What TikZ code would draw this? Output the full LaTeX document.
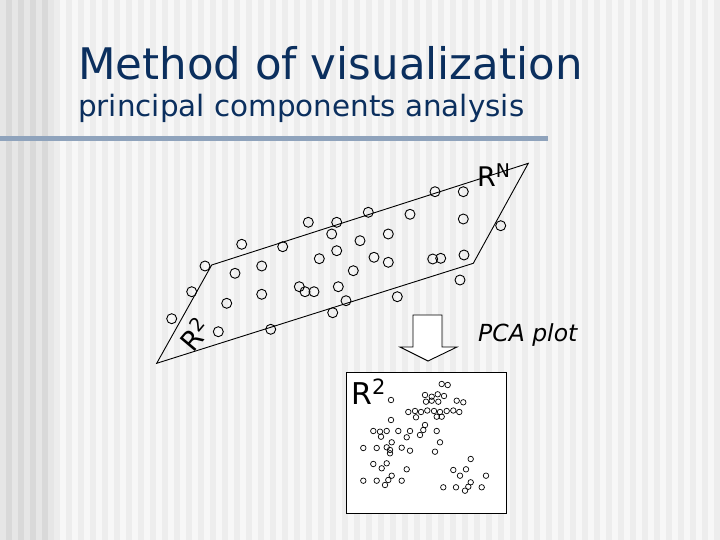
\documentclass[tikz,border=0pt]{standalone}
\usepackage{fontspec}
\setmainfont{DejaVu Sans}
\usepackage{xcolor}
\usetikzlibrary{positioning,calc}

\definecolor{titleblue}{HTML}{0B2F5E}
\definecolor{barblue}{HTML}{8FA3BC}
\definecolor{banddark}{HTML}{D9D9D9}
\definecolor{bandlight}{HTML}{E6E6E6}
\definecolor{paperdark}{HTML}{EDEDED}
\definecolor{paperlight}{HTML}{F7F7F7}

\tikzset{
	datapt/.style={draw,circle,inner sep=0pt,minimum size=10pt,line width=0.9pt},
	plotpt/.style={draw,circle,inner sep=0pt,minimum size=5.5pt,line width=0.7pt},
	lbl/.style={inner sep=0pt,anchor=base west},
}

\begin{document}
\begin{tikzpicture}[x=1pt,y=-1pt]
	\useasboundingbox (0,0) rectangle (720,540);
	
	% striped background
	\fill[paperlight] (0,0) rectangle (720,540);
	\foreach \x in {54,66,...,714}
		\fill[paperdark] (\x,0) rectangle ++(6,540);
	\fill[banddark] (0,0) rectangle (54,540);
	\foreach \x in {0,12,...,48}
		\fill[bandlight] (\x,0) rectangle ++(6,540);
	
	% title
	\node[lbl,text=titleblue,font=\fontsize{43.5}{50}\selectfont] (title) at (78,80) {Method of visualization};
	\node[lbl,text=titleblue,font=\fontsize{29.4}{34}\selectfont] (subtitle) at (78,117) {principal components analysis};
	\fill[barblue] (0,136) rectangle (548,141);
	
	% the plane in R^N
	\coordinate (bl) at (156.7,363.3);
	\coordinate (tl) at (211.7,265);
	\coordinate (tr) at (528.3,163.3);
	\coordinate (br) at (473.3,263.3);
	\draw[line width=0.9pt] (bl) -- (tl) -- (tr) -- (br) -- cycle;
	
	\foreach \x/\y [count=\i] in {435/191.7,463.3/191.7,368.3/212.3,410/214.3,463.3/219,
		500.7/225.7,308.3/222.3,336.7/222.3,331.7/234,388.3/234,360/240.7,241.7/244.3,
		282.7/246.7,336.7/250.7,319.3/258.7,374/257.3,388.3/262.3,432.7/259,440.7/258.3,
		464/255,205/266,261.7/266,235/273.3,353.3/270.7,460/280,191.7/291.7,299.3/286.7,
		305/291.7,314/291.7,338.3/286.7,261.7/294.3,226.7/303.3,346/300.7,397.3/296.7,
		332.7/312.7,171.7/318.7,218.3/331.7,270.7/329.3}
		\node[datapt] (p\i) at (\x,\y) {};
	
	\node[lbl,font=\fontsize{27}{30}\selectfont] (rn) at (477,187) {R\textsuperscript{N}};
	\node[inner sep=0pt,rotate=50,font=\fontsize{27}{30}\selectfont] (rtwo) at (195,334) {R\textsuperscript{2}};
	
	% projection arrow
	\draw[fill=white,line width=0.9pt] (413,315) -- (442,315) -- (442,347) -- (457,347)
		-- (428,361) -- (400,347) -- (413,347) -- cycle;
	\node[lbl,font=\itshape\fontsize{23.5}{28}\selectfont] (pca) at (478,341) {PCA plot};
	
	% PCA plot
	\node[draw,fill=white,line width=0.9pt,inner sep=0pt,anchor=north west,
		minimum width=160pt,minimum height=141pt] (box) at (346,372) {};
	\node[lbl,font=\fontsize{30}{34}\selectfont] (rplot) at (351,404) {R\textsuperscript{2}};
	
	\foreach \x/\y [count=\i] in {441.7/384,447.7/385,391/400,425/395,431.7/396.7,437.7/394.3,
		444/396,426/401.7,431.7/400.7,438.3/401.7,456.7/400.7,463.3/402.3,408.3/412,415/411,
		421/412,427.3/410.5,434/411,440/412,446.7/411,453.3/410.5,459.3/412,416/417.3,
		436.7/416.7,441.7/416.7,391/420,425/425,373.3/431,380/431.7,386.7/431,398.3/431,
		410/431,381/436.7,423.3/430,420/435,406.7/437.3,436.7/431,391.7/442.3,440/442.3,
		363.3/448,376.7/448,386.7/447.3,390/450,401.7/447.7,410/450.7,390/453.3,435/451.7,
		373.3/464,386.7/463.3,381.7/468.3,406.7/469.3,470.7/459,453.3/470,466/469.3,
		460/475.7,486/475.7,391.7/475.7,388.3/480,385/485,363.3/480.7,376.7/480.7,
		401.7/480.7,470.7/482.3,468.3/486.7,465/490.7,443.3/487.3,456/487.3,481.7/487.3}
		\node[plotpt] (q\i) at (\x,\y) {};
\end{tikzpicture}
\end{document}
